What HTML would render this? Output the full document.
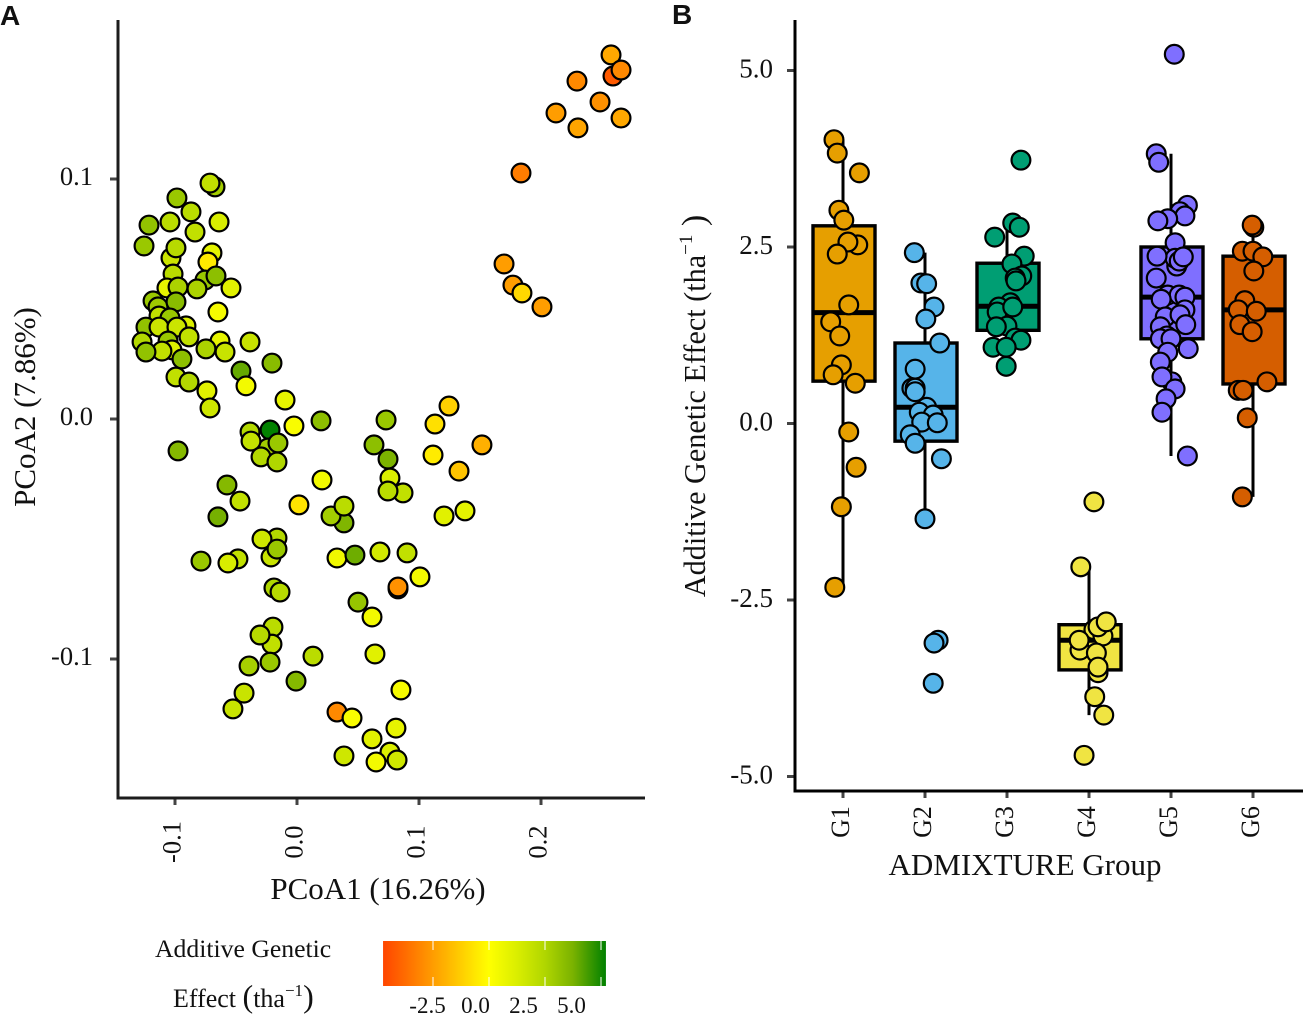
<!DOCTYPE html>
<html lang="en">
<head>
<meta charset="utf-8">
<title>PCoA and ADMIXTURE additive genetic effect</title>
<style>
html,body{margin:0;padding:0;background:#fff;}
svg{display:block;font-family:"Liberation Serif",serif;fill:#111;}
</style>
</head>
<body>
<svg id="fig" xmlns="http://www.w3.org/2000/svg" width="1308" height="1020" viewBox="0 0 1308 1020">
  <defs>
    <linearGradient id="legendGrad" x1="0" x2="1" y1="0" y2="0"></linearGradient>
  </defs>
  <text x="0" y="25" style="font:bold 28px 'Liberation Sans',sans-serif">A</text>
  <text x="672" y="24" style="font:bold 28px 'Liberation Sans',sans-serif">B</text>

  <g id="panelA"></g>
  <g id="panelB"></g>

  <line x1="118" y1="20" x2="118" y2="799.5" stroke="#1c1c1c" stroke-width="3"/>
  <line x1="116.5" y1="798" x2="645" y2="798" stroke="#1c1c1c" stroke-width="3"/>
  <line x1="795" y1="20" x2="795" y2="792.5" stroke="#000" stroke-width="3"/>
  <line x1="793.5" y1="791" x2="1303" y2="791" stroke="#000" stroke-width="3"/>

  <text x="378" y="899" text-anchor="middle" font-size="31">PCoA1 (16.26%)</text>
  <text transform="translate(35,407) rotate(-90)" text-anchor="middle" font-size="31">PCoA2 (7.86%)</text>
  <text x="1025" y="875" text-anchor="middle" font-size="31">ADMIXTURE Group</text>
  <text transform="translate(705,406) rotate(-90)" text-anchor="middle" font-size="30.2">Additive Genetic Effect (tha<tspan font-size="19" dy="-13">−1</tspan><tspan dy="13" font-size="34"> )</tspan></text>

  <text x="155" y="957" font-size="25.7">Additive Genetic</text>
  <text x="173" y="1007" font-size="26">Effect <tspan font-size="32">(</tspan>tha<tspan font-size="17" dy="-11">−1</tspan><tspan font-size="32" dy="11">)</tspan></text>
  <g id="legend"></g>
</svg>

<script>
// ---------- Panel A data ----------
const pcoa1 = [
 .2574,.2590,.2656,.2295,.2484,.2123,.2656,.2303,.1836,.1697,.1770,.1844,.2008,
 -.0672,-.0713,-.0984,-.0869,-.1213,-.1041,-.0639,-.0836,-.1254,-.0697,-.1033,-.0992,-.0730,-.1016,-.0754,-.0664,-.1066,-.0975,-.0820,-.0541,
 -.1180,-.1139,-.0992,-.0648,-.1131,-.1041,-.1238,-.0910,-.1131,-.0984,-.0885,-.1270,-.1057,-.0631,-.0385,-.1025,-.1107,-.1238,-.0746,-.0590,
 -.0943,-.0205,-.0459,-.0992,-.0885,-.0418,-.0738,-.0098,-.0713,
 .0197,-.0025,-.0385,-.0221,-.0238,-.0156,-.0377,-.0295,-.0164,-.0975,.0730,.1131,.1246,.1516,.0631,.1115,.0746,.1328,.0205,.0762,.0869,.0746,.0016,
 .0385,.0279,.0385,.1205,.1377,-.0574,-.0467,-.0648,-.0164,-.0213,-.0287,-.0164,-.0484,-.0566,-.0787,.0328,.0475,.0680,.0902,.1008,.0828,.0828,
 -.0189,-.0139,.0500,.0615,-.0197,-.0205,-.0303,-.0221,.0131,.0639,-.0393,-.0008,-.0434,-.0525,.0852,.0328,.0451,.0811,.0615,.0762,.0385,.0648,.0820
];
const pcoa2 = [
 .1517,.1429,.1454,.1408,.1321,.1275,.1254,.1213,.1025,.0646,.0558,.0525,.0467,
 .0967,.0983,.0921,.0863,.0808,.0821,.0821,.0779,.0721,.0692,.0671,.0713,.0654,.0604,.0579,.0596,.0546,.0550,.0542,.0546,
 .0492,.0467,.0488,.0446,.0429,.0421,.0383,.0388,.0383,.0383,.0342,.0321,.0325,.0325,.0321,.0288,.0283,.0279,.0292,.0279,
 .0250,.0233,.0200,.0175,.0154,.0138,.0117,.0079,.0046,
 -.0008,-.0029,-.0054,-.0046,-.0121,-.0100,-.0092,-.0158,-.0179,-.0133,-.0004,-.0021,.0054,-.0108,-.0108,-.0150,-.0167,-.0217,-.0254,-.0246,-.0308,-.0300,-.0358,
 -.0433,-.0404,-.0363,-.0404,-.0383,-.0275,-.0342,-.0408,-.0496,-.0575,-.0500,-.0542,-.0583,-.0600,-.0592,-.0579,-.0567,-.0554,-.0558,-.0658,-.0708,-.0700,
 -.0704,-.0721,-.0763,-.0825,-.0867,-.0938,-.0900,-.1013,-.0988,-.0979,-.1029,-.1092,-.1142,-.1208,-.1129,-.1221,-.1246,-.1288,-.1333,-.1388,-.1404,-.1429,-.1421
];
const pcoaEffect = [
 -2.2,-4.2,-3,-3,-2.8,-2.5,-2.2,-2.3,-3.3,-2.5,-2.5,-1.0,-2.5,
 2.8,2.0,3.0,2.2,3.2,2.2,1.3,2,3.0,0.9,1.7,2.3,-0.5,2.2,3,3.3,0.8,2.6,2.6,1,
 3,2.9,3.4,0.3,2,3,3.2,1.2,1.7,1.7,2,2.4,3,0.8,1.8,1.2,2,3.2,2.6,1.8,
 3.3,3.4,4.0,2,2.4,0.4,1,0.8,1.6,
 3.3,0.2,2.4,5.2,2.8,3,1.9,2.4,2.5,3.5,3.0,-0.8,-1.2,-2,3.3,-0.5,3.7,-1.5,0.4,1.2,2.0,2.2,-0.7,
 3.6,2.8,2.2,1,0.9,3.5,2.0,3.8,2.4,1.8,1.6,3,2,1.3,3,0.5,3.9,1.5,2.0,0.4,-2.8,-2.8,
 2.5,2.3,3.1,0.4,2.2,2.0,2.3,3.0,2.2,1.0,2.7,3.5,1.8,1.8,0.3,-3,0.2,0.8,1.0,1.2,1.6,0.4,1.6
];
const pcoaXTicks = [-0.1, 0, 0.1, 0.2];
const pcoaYTicks = [-0.1, 0, 0.1];

// ---------- Colour scale data ----------
const scaleBreaks = [-4.73, 0, 1.25, 2.5, 3.75, 5.22];
const scaleColors = [[255,69,0],[255,255,0],[218,238,0],[176,214,0],[122,178,0],[0,128,0]];
const legendTicks = [-2.5, 0, 2.5, 5];

// ---------- Panel B data ----------
const groups = ["G1","G2","G3","G4","G5","G6"];
const groupColors = ["#E69F00","#56B4E9","#009E73","#F0E442","#7F6FFF","#D55E00"];
const boxQ1 = [0.60,-0.25,1.32,-3.49,1.20,0.56];
const boxMedian = [1.57,0.23,1.66,-3.07,1.79,1.61];
const boxQ3 = [2.80,1.14,2.27,-2.85,2.50,2.37];
const whiskerLow = [-2.32,-1.35,0.81,-4.13,-0.46,-1.04];
const whiskerHigh = [4.02,2.42,2.84,-2.00,3.82,2.81];
const effectValues = [
 [4.02,3.83,3.55,3.02,2.88,2.53,2.57,2.40,1.68,1.44,1.24,.83,.69,.57,-.12,-.62,-1.18,-2.32],
 [2.42,1.99,1.98,1.65,1.48,1.14,.77,.50,.50,.45,.23,.16,.12,.02,.01,-.16,-.28,-.50,-1.35,-3.07,-3.11,-3.68],
 [3.73,2.84,2.78,2.64,2.37,2.26,2.09,2.06,2.02,1.71,1.65,1.58,1.65,1.38,1.37,1.21,1.18,1.08,1.08,.81],
 [-1.11,-2.03,-2.92,-3.01,-2.88,-2.81,-3.21,-3.07,-3.25,-3.53,-3.45,-3.87,-4.13,-4.70],
 [5.23,3.82,3.70,3.09,3.00,2.94,2.90,2.87,2.23,2.56,2.34,2.30,2.37,2.36,2.06,1.82,1.82,1.79,1.76,1.61,1.51,1.54,1.40,1.37,1.24,1.20,1.20,1.01,1.06,.87,.59,.66,.49,.35,.16,-.46],
 [2.78,2.81,2.44,2.44,2.36,2.16,1.74,1.61,1.59,1.40,1.30,.59,.47,.47,.08,-1.04]
];
const jitterOffsets = [
 [-.11,-.07,.20,-.05,.01,.18,.06,-.07,.07,-.15,-.04,-.02,-.12,.15,.07,.16,-.02,-.10],
 [-.13,-.05,.02,.11,.01,.18,-.12,-.16,-.12,-.12,.02,-.07,.10,-.04,.15,-.18,-.12,.20,0,.16,.11,.10],
 [.17,.07,.15,-.15,.21,.06,.18,.10,.11,.04,-.10,-.12,.07,0,-.13,.10,.17,-.17,-.01,-.01],
 [.06,-.10,.06,.17,.11,.21,-.11,-.12,.09,.11,.11,.07,.18,-.06],
 [.04,-.18,-.15,.20,.11,.17,-.04,-.16,.07,.05,.05,.10,-.17,.15,-.18,-.04,.10,.17,-.12,.17,-.07,.11,.18,-.13,-.05,-.13,0,-.04,.21,-.13,.01,-.11,.05,-.06,-.11,.20],
 [.01,-.01,-.13,0,.12,.01,-.10,-.18,.04,-.16,-.01,.17,-.18,-.12,-.07,-.13]
];
const effectTicks = [-5, -2.5, 0, 2.5, 5];

// ---------- Scales ----------
const xA = v => 297 + v * 1220;
const yA = v => 419 - v * 2400;
const xB = i => 843 + i * 82;
const yB = v => 423.5 - v * 70.6;
const legendX = v => 489 + v * 22.4;
const legendLabelX = v => 475.5 + v * 19.2;
const POINT_R = 9.4;
const BOX_W = 62;
const NS = "http://www.w3.org/2000/svg";

function mk(tag, attrs, parent) {
  const el = document.createElementNS(NS, tag);
  for (const k in attrs) el.setAttribute(k, attrs[k]);
  parent.appendChild(el);
  return el;
}
function effectColor(v) {
  let i = 0;
  while (i < scaleBreaks.length - 2 && v > scaleBreaks[i + 1]) i++;
  const t = Math.max(0, Math.min(1, (v - scaleBreaks[i]) / (scaleBreaks[i + 1] - scaleBreaks[i])));
  const c = scaleColors[i].map((a, k) => Math.round(a + (scaleColors[i + 1][k] - a) * t));
  return "rgb(" + c.join(",") + ")";
}

// ---------- Panel A ----------
const panelA = document.getElementById("panelA");
pcoaXTicks.forEach(t => {
  const tick = mk("line", {x1: xA(t), x2: xA(t), y1: 799, y2: 805, stroke: "#444", "stroke-width": 3}, panelA);
  
  
  const lab = mk("text", {transform: "translate(" + (xA(t) + 5.5) + ",842) rotate(-90)", "text-anchor": "middle", "font-size": 26.5}, panelA);
  
  
  lab.textContent = t.toFixed(1);
});
pcoaYTicks.forEach(t => {
  const tick = mk("line", {x1: 110, x2: 117, y1: yA(t), y2: yA(t), stroke: "#444", "stroke-width": 3}, panelA);
  
  
  const lab = mk("text", {x: 93, y: yA(t) + 6, "text-anchor": "end", "font-size": 26.5}, panelA);
  
  
  lab.textContent = t.toFixed(1);
});
pcoa1.forEach((x, i) => {
  const dot = mk("circle", {cx: xA(x), cy: yA(pcoa2[i]), r: POINT_R, fill: effectColor(pcoaEffect[i]), stroke: "#000", "stroke-width": 2.2}, panelA);
  
  
});

// ---------- Panel B ----------
const panelB = document.getElementById("panelB");
effectTicks.forEach(t => {
  const tick = mk("line", {x1: 787, x2: 794, y1: yB(t), y2: yB(t), stroke: "#444", "stroke-width": 3}, panelB);
  
  
  const lab = mk("text", {x: 773, y: yB(t) + 7, "text-anchor": "end", "font-size": 27}, panelB);
  
  
  lab.textContent = t.toFixed(1);
});
groups.forEach((g, i) => {
  const cx = xB(i);
  const tick = mk("line", {x1: cx, x2: cx, y1: 792, y2: 798, stroke: "#444", "stroke-width": 3}, panelB);
  
  
  const lab = mk("text", {transform: "translate(" + (cx + 6) + ",822) rotate(-90)", "text-anchor": "middle", "font-size": 26}, panelB);
  
  
  lab.textContent = g;

  const whisk = mk("line", {x1: cx, x2: cx, y1: yB(whiskerHigh[i]), y2: yB(whiskerLow[i]), stroke: "#000", "stroke-width": 3}, panelB);
  
  
  const box = mk("rect", {x: cx - BOX_W / 2 + 1, y: yB(boxQ3[i]), width: BOX_W, height: yB(boxQ1[i]) - yB(boxQ3[i]), fill: groupColors[i], stroke: "#000", "stroke-width": 3.4}, panelB);
  
  
  const med = mk("line", {x1: cx - BOX_W / 2 + 1, x2: cx + BOX_W / 2 + 1, y1: yB(boxMedian[i]), y2: yB(boxMedian[i]), stroke: "#000", "stroke-width": 5}, panelB);
  
  

  effectValues[i].forEach((v, k) => {
    const dot = mk("circle", {cx: cx + jitterOffsets[i][k] * 82, cy: yB(v), r: POINT_R, fill: groupColors[i], stroke: "#000", "stroke-width": 2.2}, panelB);
    
    
  });
});

// ---------- Legend ----------
const grad = document.getElementById("legendGrad");
const lo = scaleBreaks[0], hi = scaleBreaks[scaleBreaks.length - 1];
scaleBreaks.forEach((b, i) => {
  mk("stop", {offset: (b - lo) / (hi - lo), "stop-color": "rgb(" + scaleColors[i].join(",") + ")"}, grad);
});
const legend = document.getElementById("legend");
const bar = mk("rect", {x: legendX(lo), y: 941, width: legendX(hi) - legendX(lo), height: 45, fill: "url(#legendGrad)"}, legend);


legendTicks.forEach(t => {
  [[941, 950], [977, 986]].forEach(seg => {
    const tick = mk("line", {x1: legendX(t), x2: legendX(t), y1: seg[0], y2: seg[1], stroke: "#fff", "stroke-width": 1}, legend);
    
    
  });
  const lab = mk("text", {x: legendLabelX(t), y: 1013, "text-anchor": "middle", "font-size": 23}, legend);
  
  
  lab.textContent = t.toFixed(1);
});
</script>
</body>
</html>
